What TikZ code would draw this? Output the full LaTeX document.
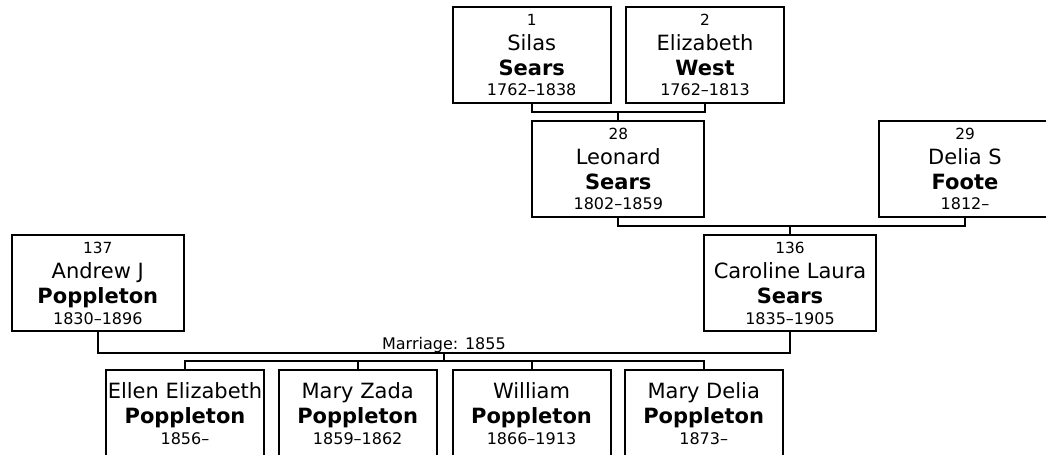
\documentclass[tikz,border=0pt]{standalone}
\usepackage{fontspec}
\setmainfont{DejaVu Sans}
\usetikzlibrary{positioning}
\newcommand{\idno}[1]{{\fontsize{11.5}{12}\selectfont #1}}
\newcommand{\surname}[1]{{\bfseries #1}}
\newcommand{\years}[1]{{\fontsize{12}{14}\selectfont #1}}
\tikzset{
  every picture/.style={line width=1.5pt},
  card/.style={draw=black, fill=white, minimum width=#1, minimum height=72pt, inner sep=0pt, align=center, font=\fontsize{15.75}{18.75}\selectfont},
  card/.default=118.5pt,
  link/.style={draw=black, line width=1.5pt},
  note/.style={font=\fontsize{12}{14}\selectfont},
}
\begin{document}
\begin{tikzpicture}[x=0.75pt, y=-0.75pt]
  \useasboundingbox (0,0) rectangle (1046,454);
  \clip (0,0) rectangle (1046,454);
  % grandparents and parents
  \node[card] (p1) at (531.7,54.8) {\idno{1}\\Silas\\\surname{Sears}\\[-3.35pt]\years{1762–1838}};
  \node[card] (p2) at (705,54.8) {\idno{2}\\Elizabeth\\\surname{West}\\[-3.35pt]\years{1762–1813}};
  \node[card=129pt] (p28) at (618.3,169) {\idno{28}\\Leonard\\\surname{Sears}\\[-3.35pt]\years{1802–1859}};
  \node[card=129pt] (p29) at (965,169) {\idno{29}\\Delia S\\\surname{Foote}\\[-3.35pt]\years{1812–}};
  \node[card=129pt] (p136) at (790,283.3) {\idno{136}\\Caroline Laura\\\surname{Sears}\\[-3.35pt]\years{1835–1905}};
  \node[card=129pt] (p137) at (97.8,283.3) {\idno{137}\\Andrew J\\\surname{Poppleton}\\[-3.35pt]\years{1830–1896}};
  % children (empty last row lifts the text)
  \node[card] (c1) at (185,417.7) {Ellen Elizabeth\\\surname{Poppleton}\\[-3.35pt]\years{1856–}\\[-12.75pt]\mbox{}};
  \node[card] (c2) at (357.7,417.7) {Mary Zada\\\surname{Poppleton}\\[-3.35pt]\years{1859–1862}\\[-12.75pt]\mbox{}};
  \node[card] (c3) at (531.5,417.7) {William\\\surname{Poppleton}\\[-3.35pt]\years{1866–1913}\\[-12.75pt]\mbox{}};
  \node[card] (c4) at (703.7,417.7) {Mary Delia\\\surname{Poppleton}\\[-3.35pt]\years{1873–}\\[-12.75pt]\mbox{}};
  % couple links
  \coordinate (j1) at (618.3,111.7);
  \coordinate (j2) at (790,226);
  \coordinate (j3) at (443.9,352.7);
  \coordinate (j4) at (443.9,360.7);
  \draw[link] (p1.south) |- (j1) -| (p2.south);
  \draw[link] (j1) -- (p28.north);
  \draw[link] (p28.south) |- (j2) -| (p29.south);
  \draw[link] (j2) -- (p136.north);
  \draw[link] (p137.south) |- (j3) -| (p136.south);
  \node[note, anchor=base] (wed) at (443.9,349.3) {Marriage: 1855};
  \draw[link] (j3) -- (j4);
  \draw[link] (c1.north) |- (j4) -| (c4.north);
  \foreach \k in {c2,c3} \draw[link] (\k.north) -- (\k.north |- j4);
\end{tikzpicture}
\end{document}
